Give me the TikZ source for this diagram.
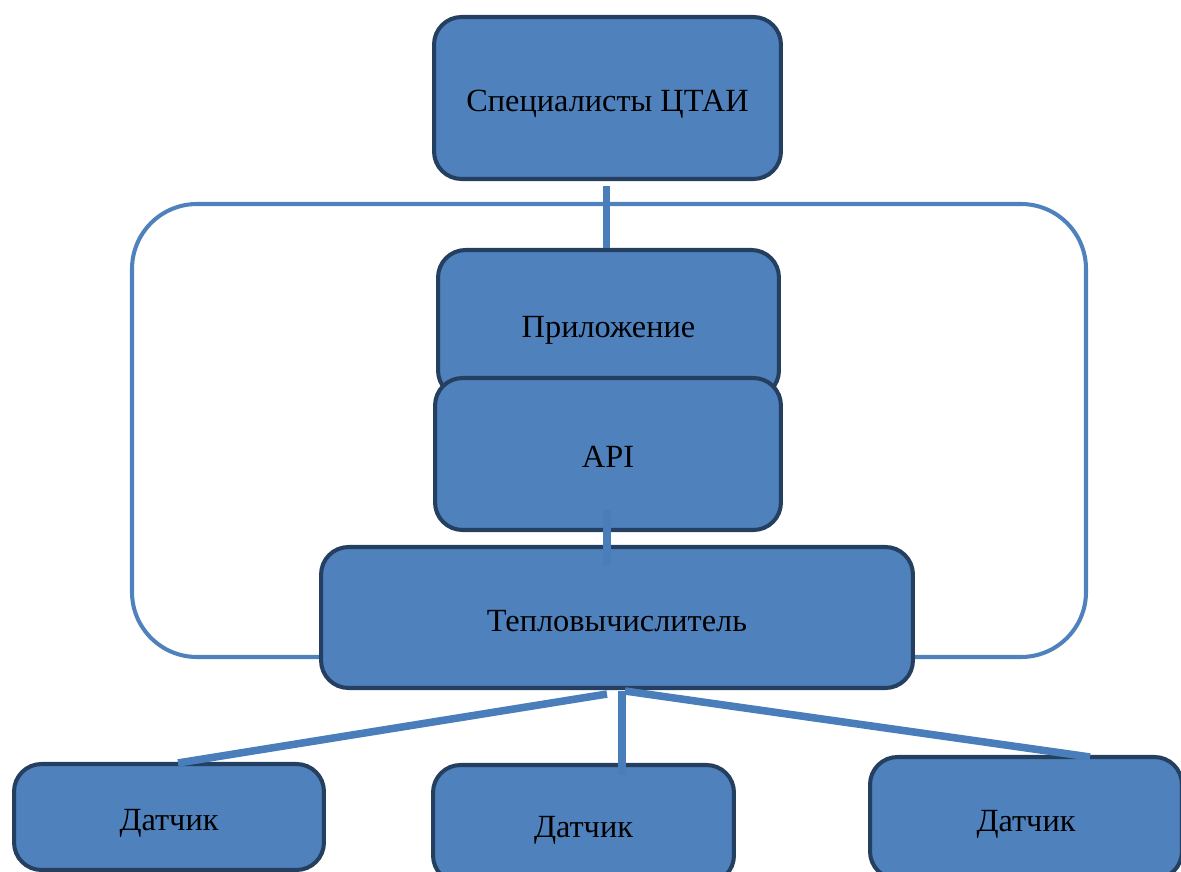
\documentclass[tikz,border=0pt]{standalone}
\usepackage{fontspec}
\setmainfont{Liberation Serif}
\usetikzlibrary{calc}
\definecolor{boxfill}{HTML}{4F81BD}
\definecolor{boxline}{HTML}{243F60}
\definecolor{linkcol}{HTML}{4A7EBB}
\begin{document}
\begin{tikzpicture}[x=0.02cm,y=-0.02cm,
  unit/.style={draw=boxline, fill=boxfill, line width=2.3pt,
    rounded corners=0.55cm, inner sep=0pt, font=\fontsize{18.4}{22}\selectfont,
    text=black, text height=0.69cm, text depth=0.14cm},
  link/.style={draw=linkcol, line width=4.3pt},
  frame/.style={draw=boxfill, line width=2.3pt, rounded corners=1.3cm}]
\useasboundingbox (0,0) rectangle (1181,872);

% outer enclosure around the software stack
\draw[frame] (132,204) rectangle (1086,657);

% top unit and its link down into the enclosure
\node[unit, minimum width=6.94cm, minimum height=3.24cm] (spec) at (607.5,98) {Специалисты ЦТАИ};
\node[unit, minimum width=6.82cm, minimum height=2.96cm] (app) at (608.5,324) {Приложение};
\draw[link] ($(spec.south)+(-1,5)$) -- ($(app.north)+(-2,0)$);
\node[unit, minimum width=6.92cm, minimum height=3.04cm] (api) at (608,454) {API};
\node[unit, minimum width=11.84cm, minimum height=2.82cm] (calc) at (617,617.5) {Тепловычислитель};
\draw[link] ($(api.south)+(-1,-22)$) -- ($(calc.north)+(-10,20)$);

% sensors
\node[unit, minimum width=6.2cm, minimum height=2.12cm] (s1) at (169,817) {Датчик};
\node[unit, minimum width=6.02cm, minimum height=2.36cm] (s2) at (583.5,824) {Датчик};
\node[unit, minimum width=6.24cm, minimum height=2.44cm] (s3) at (1026,818) {Датчик};

% links from the heat calculator to the sensors
\coordinate (hubL) at ($(calc.south)+(-10,4)$);
\coordinate (hubM) at ($(calc.south)+(5,1)$);
\coordinate (hubR) at ($(calc.south)+(8,1)$);
\coordinate (s1top) at ($(s1.north)+(9,1)$);
\coordinate (s2top) at ($(s2.north)+(38.5,12)$);
\coordinate (s3top) at ($(s3.north)+(64,2)$);
\draw[link] (hubL) -- (s1top);
\draw[link] (hubM) -- (s2top);
\draw[link] (hubR) -- (s3top);
\end{tikzpicture}
\end{document}
